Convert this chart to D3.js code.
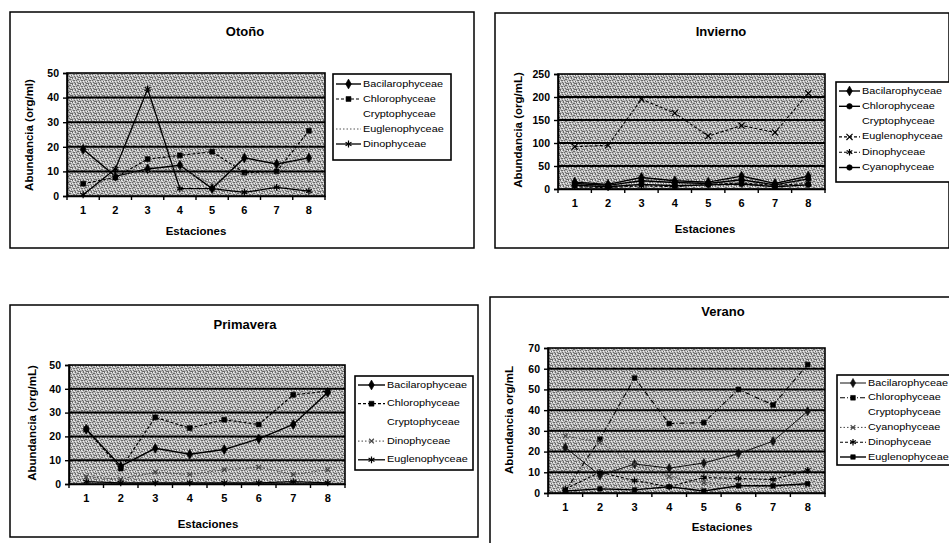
<!DOCTYPE html>
<html><head><meta charset="utf-8">
<script src="https://cdn.jsdelivr.net/npm/d3@7"></script>
<style>
html,body{margin:0;padding:0;background:#fff;}
svg{display:block;font-family:"Liberation Sans",Arial,sans-serif;}
</style></head><body>
<svg id="chart" width="949" height="543"></svg>
<script>
// Stations along the x axis
const estaciones = ["1", "2", "3", "4", "5", "6", "7", "8"];

// Otoño (org/ml)
const otonoBacilarophyceae = [19, 8, 11, 12.5, 3, 15.5, 13, 15.5];
const otonoChlorophyceae   = [5, 7.5, 15, 16.5, 18, 9.5, 10, 26.5];
const otonoEuglenophyceae  = [1, 9, 10, 11, 5, 9, 9, 20];
const otonoDinophyceae     = [0.5, 11, 43.5, 3, 3, 1.5, 3.5, 2];
const otonoTicks = [0, 10, 20, 30, 40, 50];

// Invierno (org/mL)
const inviernoBacilarophyceae = [15, 10, 25, 18, 15, 28, 12, 28];
const inviernoChlorophyceae   = [8, 5, 10, 7, 9, 11, 5, 9];
const inviernoEuglenophyceae  = [92, 95, 195, 165, 115, 138, 123, 208];
const inviernoDinophyceae     = [5, 3, 7, 5, 10, 13, 8, 12];
const inviernoCyanophyceae    = [12, 8, 18, 14, 12, 20, 9, 22];
const inviernoTicks = [0, 50, 100, 150, 200, 250];

// Primavera (org/mL)
const primaveraBacilarophyceae = [23, 7.5, 15, 12.5, 14.5, 19, 25, 38.5];
const primaveraChlorophyceae   = [23, 6.5, 28, 23.5, 27, 25, 37.5, 39];
const primaveraDinophyceae     = [3, 2, 5, 4, 6, 7, 4, 6];
const primaveraEuglenophyceae  = [1, 0.5, 0.5, 0.5, 0.5, 0.5, 1, 0.5];
const primaveraTicks = [0, 10, 20, 30, 40, 50];

// Verano (org/mL)
const veranoBacilarophyceae = [22, 8.5, 14, 12, 14.5, 19, 25, 39.5];
const veranoChlorophyceae   = [1, 26, 55.5, 33.5, 34, 50, 42.5, 62];
const veranoCyanophyceae    = [27.5, 24.5, 14, 8, 5, 3.5, 3, 4];
const veranoDinophyceae     = [2, 10, 6, 3, 7.5, 7, 6.5, 11];
const veranoEuglenophyceae  = [1, 2, 1.5, 3, 1, 3.5, 3.5, 4.5];
const veranoTicks = [0, 10, 20, 30, 40, 50, 60, 70];

// Line / marker styles
const styles = {
  solidDiamond: {dash: null, width: 1.4, color: "#000", symbol: d3.symbolDiamond, size: 28, fill: true},
  thinDiamond:  {dash: null, width: 1.0, color: "#111", symbol: d3.symbolDiamond, size: 24, fill: true},
  solidCircle:  {dash: null, width: 1.4, color: "#000", symbol: d3.symbolCircle, size: 24, fill: true},
  dashSquare:   {dash: "3,2", width: 1.2, color: "#000", symbol: d3.symbolSquare, size: 24, fill: true},
  dashDotSquare:{dash: "5,2,1,2", width: 1.1, color: "#000", symbol: d3.symbolSquare, size: 22, fill: true},
  solidSquare:  {dash: null, width: 1.4, color: "#000", symbol: d3.symbolSquare, size: 20, fill: true},
  dotted:       {dash: "1.5,2", width: 1.0, color: "#555", symbol: null},
  dottedTick:   {dash: "1.5,2", width: 1.0, color: "#444", symbol: d3.symbolTimes, size: 16, fill: false},
  dashTimes:    {dash: "3,2", width: 1.1, color: "#000", symbol: d3.symbolTimes, size: 26, fill: false},
  dashAsterisk: {dash: "3,2", width: 1.1, color: "#000", symbol: d3.symbolAsterisk, size: 30, fill: false},
  solidAsterisk:{dash: null, width: 1.3, color: "#000", symbol: d3.symbolAsterisk, size: 32, fill: false},
  none:         null
};

const panels = [
  {
    title: "Otoño", frame: [10, 12, 474, 248], plot: [67, 73, 325, 196],
    yMax: 50, ticks: otonoTicks, yTitle: "Abundancia (org/ml)",
    titlePos: [245, 33], yTitlePos: [30, 135], xTitlePos: [196, 232],
    legend: {x: 333, y: 74, w: 118, h: 86, row0: 84, step: 15, sample: 28},
    series: [
      {name: "Bacilarophyceae", values: otonoBacilarophyceae, style: "solidDiamond"},
      {name: "Chlorophyceae", values: otonoChlorophyceae, style: "dashSquare"},
      {name: "Cryptophyceae", values: null, style: "none"},
      {name: "Euglenophyceae", values: otonoEuglenophyceae, style: "dotted"},
      {name: "Dinophyceae", values: otonoDinophyceae, style: "solidAsterisk"}
    ]
  },
  {
    title: "Invierno", frame: [495, 13, 949, 248], plot: [558, 74, 825, 189],
    yMax: 250, ticks: inviernoTicks, yTitle: "Abundancia (org/mL)",
    titlePos: [721, 33], yTitlePos: [519, 130], xTitlePos: [705, 230],
    legend: {x: 836, y: 82, w: 114, h: 100, row0: 91, step: 15.3, sample: 24},
    series: [
      {name: "Bacilarophyceae", values: inviernoBacilarophyceae, style: "solidDiamond"},
      {name: "Chlorophyceae", values: inviernoChlorophyceae, style: "solidCircle"},
      {name: "Cryptophyceae", values: null, style: "none"},
      {name: "Euglenophyceae", values: inviernoEuglenophyceae, style: "dashTimes"},
      {name: "Dinophyceae", values: inviernoDinophyceae, style: "dashAsterisk"},
      {name: "Cyanophyceae", values: inviernoCyanophyceae, style: "solidCircle"}
    ]
  },
  {
    title: "Primavera", frame: [10, 305, 478, 537], plot: [69, 365, 345, 484],
    yMax: 50, ticks: primaveraTicks, yTitle: "Abundancia (org/mL)",
    titlePos: [245, 326], yTitlePos: [33, 423], xTitlePos: [208, 525],
    legend: {x: 355, y: 376, w: 118, h: 94, row0: 385, step: 18.7, sample: 30},
    series: [
      {name: "Bacilarophyceae", values: primaveraBacilarophyceae, style: "solidDiamond"},
      {name: "Chlorophyceae", values: primaveraChlorophyceae, style: "dashSquare"},
      {name: "Cryptophyceae", values: null, style: "none"},
      {name: "Dinophyceae", values: primaveraDinophyceae, style: "dottedTick"},
      {name: "Euglenophyceae", values: primaveraEuglenophyceae, style: "solidAsterisk"}
    ]
  },
  {
    title: "Verano", frame: [490, 297, 951, 545], plot: [548, 348, 825, 493],
    yMax: 70, ticks: veranoTicks, yTitle: "Abundancia org/mL",
    titlePos: [723, 313], yTitlePos: [510, 420], xTitlePos: [722, 528],
    legend: {x: 837, y: 375, w: 114, h: 90, row0: 383, step: 14.8, sample: 29},
    series: [
      {name: "Bacilarophyceae", values: veranoBacilarophyceae, style: "thinDiamond"},
      {name: "Chlorophyceae", values: veranoChlorophyceae, style: "dashDotSquare"},
      {name: "Cryptophyceae", values: null, style: "none"},
      {name: "Cyanophyceae", values: veranoCyanophyceae, style: "dottedTick"},
      {name: "Dinophyceae", values: veranoDinophyceae, style: "dashAsterisk"},
      {name: "Euglenophyceae", values: veranoEuglenophyceae, style: "solidSquare"}
    ]
  }
];

const svg = d3.select("#chart");

// Grey dithered fill for the plot areas
const defs = svg.append("defs");
const pat = defs.append("pattern").attr("id", "dither")
  .attr("width", 8).attr("height", 6).attr("patternUnits", "userSpaceOnUse");
pat.append("rect").attr("width", 8).attr("height", 6).attr("fill", "#bababa");
const darkDots = [[0,0],[3,0],[6,1],[1,2],[4,2],[7,3],[2,4],[5,4],[0,5],[3,5],[6,5],[5,1],[2,2],[7,5]];
const lightDots = [[1,0],[7,0],[2,1],[6,3],[0,3],[4,5],[3,3]];
darkDots.forEach(([px, py]) => pat.append("rect").attr("x", px).attr("y", py)
  .attr("width", 1).attr("height", 1).attr("fill", "#6a6a6a"));
lightDots.forEach(([px, py]) => pat.append("rect").attr("x", px).attr("y", py)
  .attr("width", 1).attr("height", 1).attr("fill", "#efefef"));

function drawMarker(g, st, cx, cy) {
  if (!st || !st.symbol) return;
  g.append("path")
    .attr("d", d3.symbol().type(st.symbol).size(st.size)())
    .attr("transform", `translate(${cx},${cy})`)
    .attr("fill", st.fill ? st.color : "none")
    .attr("stroke", st.color)
    .attr("stroke-width", st.fill ? 0.6 : 1.2);
}

panels.forEach(p => {
  const g = svg.append("g");
  const [fx0, fy0, fx1, fy1] = p.frame;
  g.append("rect").attr("x", fx0).attr("y", fy0)
    .attr("width", fx1 - fx0).attr("height", fy1 - fy0)
    .attr("fill", "#fff").attr("stroke", "#000").attr("stroke-width", 1.5);

  g.append("text").attr("x", p.titlePos[0]).attr("y", p.titlePos[1])
    .attr("text-anchor", "middle").attr("dominant-baseline", "middle")
    .attr("font-size", 13).attr("font-weight", "bold").text(p.title);

  const [px0, py0, px1, py1] = p.plot;
  const x = d3.scaleBand().domain(estaciones).range([px0, px1]).padding(0);
  const y = d3.scaleLinear().domain([0, p.yMax]).range([py1, py0]);

  g.append("rect").attr("x", px0).attr("y", py0)
    .attr("width", px1 - px0).attr("height", py1 - py0)
    .attr("fill", "url(#dither)");

  // horizontal gridlines
  g.append("g").selectAll("line").data(p.ticks.filter(t => t > 0 && t < p.yMax)).join("line")
    .attr("x1", px0).attr("x2", px1)
    .attr("y1", d => y(d)).attr("y2", d => y(d))
    .attr("stroke", "#000").attr("stroke-width", 2);

  g.append("rect").attr("x", px0).attr("y", py0)
    .attr("width", px1 - px0).attr("height", py1 - py0)
    .attr("fill", "none").attr("stroke", "#000").attr("stroke-width", 1.6);

  // y axis
  const ya = g.append("g").attr("transform", `translate(${px0},0)`)
    .call(d3.axisLeft(y).tickValues(p.ticks).tickSize(4).tickPadding(4).tickFormat(d3.format("d")));
  ya.select(".domain").attr("stroke-width", 1.6);
  ya.selectAll(".tick line").attr("stroke-width", 1.4);
  ya.selectAll("text").attr("font-size", 10.5).attr("font-weight", "bold")
    .attr("font-family", "'Liberation Sans',Arial,sans-serif");

  // x axis: labels centred on stations, ticks between stations
  const xa = g.append("g").attr("transform", `translate(0,${py1})`)
    .call(d3.axisBottom(x).tickSize(0).tickPadding(10));
  xa.select(".domain").attr("stroke-width", 1.6);
  xa.selectAll("text").attr("font-size", 11).attr("font-weight", "bold")
    .attr("font-family", "'Liberation Sans',Arial,sans-serif");
  const bounds = estaciones.map(d => x(d)).concat([x(estaciones[estaciones.length - 1]) + x.bandwidth()]);
  g.append("g").selectAll("line").data(bounds).join("line")
    .attr("x1", d => d).attr("x2", d => d)
    .attr("y1", py1).attr("y2", py1 + 4)
    .attr("stroke", "#000").attr("stroke-width", 1.4);

  // axis titles
  g.append("text")
    .attr("transform", `translate(${p.yTitlePos[0]},${p.yTitlePos[1]}) rotate(-90)`)
    .attr("text-anchor", "middle").attr("dominant-baseline", "middle")
    .attr("font-size", 11.5).attr("font-weight", "bold").text(p.yTitle);
  g.append("text").attr("x", p.xTitlePos[0]).attr("y", p.xTitlePos[1])
    .attr("text-anchor", "middle").attr("dominant-baseline", "middle")
    .attr("font-size", 11.5).attr("font-weight", "bold").text("Estaciones");

  // series
  const cx = d => x(d) + x.bandwidth() / 2;
  p.series.forEach(s => {
    const st = styles[s.style];
    if (!st || !s.values) return;
    const pts = s.values.map((v, i) => [cx(estaciones[i]), y(v)]);
    g.append("path").attr("d", d3.line()(pts))
      .attr("fill", "none").attr("stroke", st.color)
      .attr("stroke-width", st.width)
      .attr("stroke-dasharray", st.dash);
    pts.forEach(([mx, my]) => drawMarker(g, st, mx, my));
  });

  // legend
  const L = p.legend;
  g.append("rect").attr("x", L.x).attr("y", L.y).attr("width", L.w).attr("height", L.h)
    .attr("fill", "#fff").attr("stroke", "#000").attr("stroke-width", 1.6);
  p.series.forEach((s, i) => {
    const ry = L.row0 + i * L.step;
    const st = styles[s.style];
    if (st) {
      g.append("line").attr("x1", L.x + 3).attr("x2", L.x + L.sample)
        .attr("y1", ry).attr("y2", ry)
        .attr("stroke", st.color).attr("stroke-width", st.width)
        .attr("stroke-dasharray", st.dash);
      drawMarker(g, st, L.x + 3 + (L.sample - 3) / 2, ry);
    }
    const t = g.append("text").attr("x", L.x + L.sample + 2).attr("y", ry)
      .attr("dominant-baseline", "middle")
      .attr("font-size", 9.5)
      .text(s.name);
    // slightly widened lettering, as in the printed legend
    const w = t.node().getComputedTextLength();
    t.attr("textLength", w * 1.14).attr("lengthAdjust", "spacingAndGlyphs");
  });
});
</script>
</body></html>
